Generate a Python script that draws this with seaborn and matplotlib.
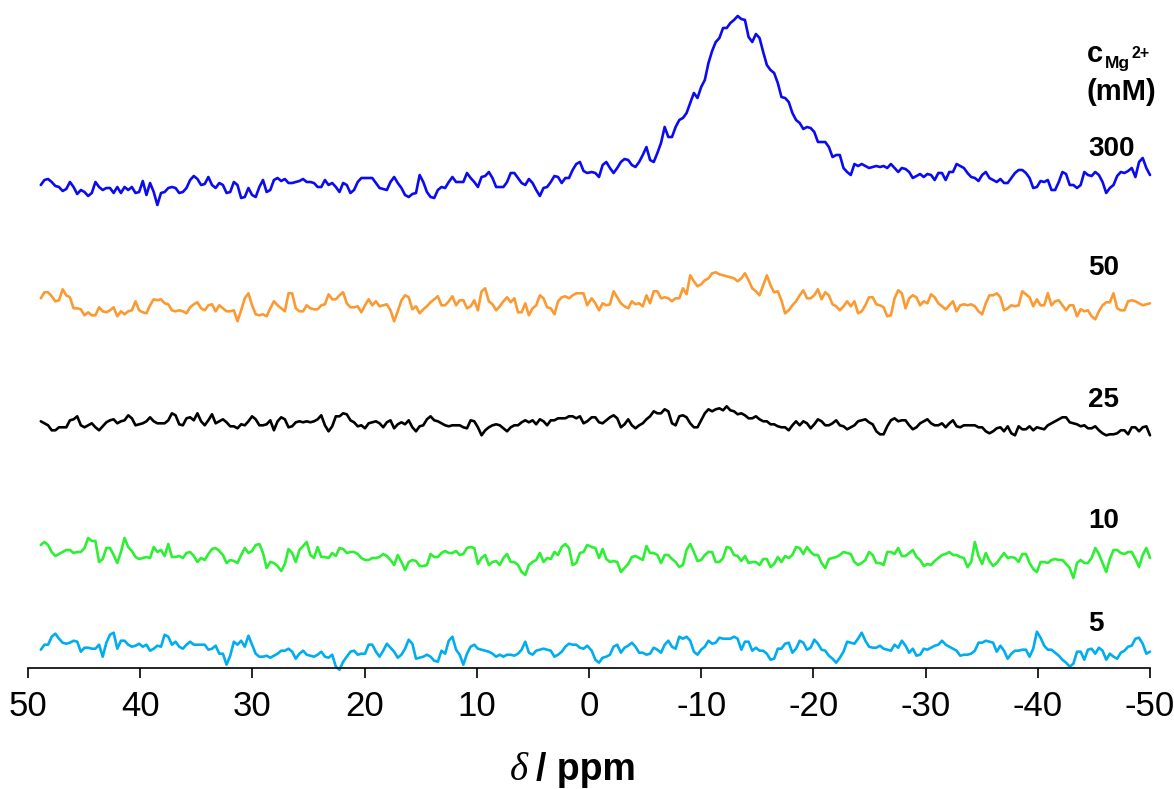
import numpy as np
import pandas as pd
import matplotlib
matplotlib.use("Agg")
import matplotlib.pyplot as plt
import seaborn as sns

# ---------------- data (intensity, arbitrary units) -------------
# each trace: values on a uniform ppm grid, left half (48.9 -> 0.2 ppm), right half (-0.2 -> -50 ppm)
blue_left = [20,25,26,23,19,18,14,16,23,18,11,15,13,9,12,23,18,15,17,17,12,18,12,18,15,18,12,13,24,10,22,13,0,12,13,17,18,17,12,13,17,25,29,26,20,21,28,20,17,22,20,12,13,23,20,7,8,17,10,8,18,25,13,15,25,27,24,26,22,22,23,24,26,23,23,22,18,18,25,20,22,18,13,22,20,12,15,23,27,27,27,27,22,17,16,15,23,28,22,17,10,8,11,12,30,23,13,8,7,15,18,17,23,28,23,23,23,32,27,23,18,28,29,33,27,18,18,18,23,32,32,27,22,20,26,22,15,9,17,18,23,29,28,22,27,27,35,41,43,34,32]
blue_right = [33,32,28,40,43,37,32,37,43,46,45,40,38,43,50,58,45,43,52,62,78,68,68,78,85,87,92,102,112,107,118,125,142,154,163,167,177,177,182,185,189,186,185,168,163,171,167,153,140,135,132,122,108,107,103,92,85,82,76,78,77,73,63,63,63,58,48,50,50,37,33,30,41,39,41,39,37,38,39,38,39,37,41,37,33,37,36,33,27,29,31,28,31,30,25,32,32,25,33,33,41,39,37,32,28,27,24,30,33,27,25,23,26,22,22,27,32,35,35,32,27,17,18,24,23,25,15,15,23,33,31,20,20,17,20,33,30,29,33,30,23,12,17,20,29,33,32,34,37,28,43,47,37,30]

orange_left = [30,36,36,32,27,28,39,33,31,20,20,19,13,16,13,13,21,17,16,18,21,12,17,14,17,18,27,18,16,15,23,29,28,29,25,24,18,17,18,17,15,21,24,26,20,18,23,24,17,23,20,17,17,18,7,18,30,35,23,14,13,14,12,20,27,23,20,17,35,35,20,17,17,23,20,19,19,23,24,34,29,29,33,36,25,21,21,22,16,23,29,23,27,22,23,24,18,7,17,28,33,31,19,22,15,19,22,26,29,32,23,23,27,32,23,28,28,20,22,28,18,37,40,27,24,18,22,27,31,26,30,16,16,25,13,20,23,33,30,21,20,14,27,31,32,30,33,35,35,35,23]
orange_right = [30,25,18,25,23,24,37,31,25,22,20,27,24,25,22,33,25,37,37,30,31,30,27,30,30,40,34,53,47,42,44,48,50,55,56,54,53,52,51,50,47,50,55,48,40,37,33,43,53,43,36,37,28,15,18,23,27,33,38,30,30,33,39,29,36,33,24,22,18,22,27,22,27,15,17,23,31,31,24,23,21,12,13,30,38,35,20,30,33,31,23,27,25,34,31,25,22,19,23,27,17,23,24,23,24,22,17,14,25,33,33,35,31,18,20,23,22,23,37,34,31,22,29,23,23,35,23,27,28,23,18,23,23,12,19,17,18,12,9,17,23,26,26,35,20,18,18,27,28,27,25,23,24,25]

black_left = [17,15,13,8,8,11,11,11,18,19,22,13,11,13,15,11,8,12,16,18,19,15,17,18,23,20,13,14,15,17,21,17,15,15,15,18,25,23,14,13,20,21,18,25,17,13,18,24,15,17,19,16,12,12,10,14,13,17,22,19,13,13,14,18,8,17,21,19,11,12,16,17,16,17,16,17,19,23,13,7,12,22,22,25,24,18,16,12,13,10,15,16,17,15,11,16,18,10,14,16,14,18,11,7,12,13,19,22,18,17,15,13,12,13,13,13,11,10,18,17,11,3,8,11,13,14,13,10,7,11,13,13,16,18,16,18,14,19,17,13,18,18,20,20,20,22,22,20,22,15,17]
black_right = [21,21,16,15,18,21,23,20,11,14,19,13,10,13,15,19,22,27,25,25,29,27,15,13,22,23,21,15,11,11,18,25,29,27,29,30,28,32,28,27,24,25,23,20,20,22,19,17,17,14,14,12,11,11,8,13,17,13,17,15,10,14,19,17,13,13,15,18,13,12,9,11,13,17,18,19,16,14,7,4,4,12,18,20,17,18,18,13,9,11,15,17,19,15,13,13,15,11,15,18,12,11,13,13,13,13,11,11,7,5,7,10,11,7,12,5,3,12,9,9,12,8,11,10,9,13,15,17,19,21,21,16,15,14,12,13,10,10,12,8,5,3,4,4,5,8,8,4,11,11,7,11,12,3]

green_left = [40,43,40,33,29,31,33,35,35,32,33,33,37,47,44,44,23,26,37,37,30,22,33,47,38,34,28,26,27,28,27,38,33,35,29,41,28,28,29,27,32,33,29,23,27,25,31,36,37,34,30,22,25,24,22,30,37,32,34,40,41,32,17,23,22,19,14,21,36,32,23,35,39,43,30,27,38,28,28,27,32,29,37,36,32,33,33,31,27,25,25,27,27,28,31,29,25,20,30,23,15,23,25,24,19,19,20,31,28,28,32,34,32,32,34,30,31,37,38,37,21,27,30,20,23,24,20,27,31,23,23,20,13,10,20,23,25,32,23,27,26,33,30,38,41,37,20,22,32,33,40]
green_right = [38,37,27,36,26,23,24,23,13,17,21,28,29,27,25,39,32,32,30,22,30,30,26,23,18,20,35,41,33,24,25,30,33,33,23,23,27,38,37,30,29,24,29,22,23,23,20,26,26,18,21,28,23,29,27,30,38,37,31,38,33,30,30,22,17,26,27,28,30,33,32,31,23,20,22,25,33,30,22,22,20,33,33,31,37,29,29,32,35,28,25,19,21,20,24,27,30,31,33,30,30,28,27,18,23,43,29,21,32,24,19,22,27,32,27,28,27,23,31,31,22,16,13,23,23,22,25,26,25,25,21,17,7,22,25,22,22,27,37,31,22,13,26,35,35,32,31,33,33,26,18,30,37,27]

cyan_left = [22,27,27,35,38,33,29,28,29,31,30,20,24,24,23,23,27,15,29,37,39,23,31,31,27,25,26,28,25,27,21,23,26,25,37,35,27,30,25,23,27,30,27,27,27,27,22,23,26,18,18,7,16,30,27,31,25,36,27,18,15,15,16,14,16,18,21,21,23,20,13,18,21,17,16,15,17,20,15,14,17,5,2,10,15,20,21,17,18,18,27,27,20,15,21,28,24,20,14,17,23,32,28,13,14,15,17,15,11,10,21,18,31,35,22,17,7,18,25,27,23,22,21,20,18,15,17,15,17,17,16,18,22,30,19,17,21,22,23,22,21,15,17,20,25,28,27,27,24,23,26]
cyan_right = [21,12,9,14,15,17,25,27,19,24,26,29,25,19,19,17,18,24,22,19,27,31,25,23,35,33,35,31,20,17,22,25,31,28,29,34,33,33,33,35,33,22,30,30,21,24,21,21,18,12,13,23,23,28,29,19,23,31,29,22,24,32,28,22,21,16,13,9,14,20,30,29,28,33,39,31,25,24,24,26,23,22,21,27,24,31,26,19,23,16,17,23,22,24,26,27,31,27,25,23,21,16,17,17,18,21,29,29,31,30,29,20,26,21,13,18,21,21,22,22,15,23,40,34,26,22,22,19,16,12,9,5,8,20,20,12,22,23,18,24,21,12,18,15,13,19,21,25,26,33,34,28,18,20]

concentrations = ["300", "50", "25", "10", "5"]
traces = {
    "300": (blue_left, blue_right),
    "50": (orange_left, orange_right),
    "25": (black_left, black_right),
    "10": (green_left, green_right),
    "5": (cyan_left, cyan_right),
}
x_ticks = [50, 40, 30, 20, 10, 0, -10, -20, -30, -40, -50]

# ---------------- styling / stacking -------------
palette = {"300": "#0b0bf2", "50": "#fb9a32", "25": "#000000", "10": "#2def33", "5": "#00adef"}
stack_offset = {"300": 463, "50": 339.7, "25": 229.7, "10": 83, "5": -3.7}

frames = []
for c in concentrations:
    left, right = traces[c]
    ppm = np.concatenate([np.linspace(48.86, 0.16, len(left)), np.linspace(-0.24, -50.0, len(right))])
    val = np.concatenate([left, right]).astype(float) + stack_offset[c]
    frames.append(pd.DataFrame({"ppm": ppm, "y": val, "conc": c}))
df = pd.concat(frames, ignore_index=True)

sns.set_theme(style="white")
plt.rcParams["font.family"] = ["Liberation Sans", "DejaVu Sans"]
plt.rcParams["axes.unicode_minus"] = False
plt.rcParams["text.color"] = "black"

W, H = 1174, 789
fig = plt.figure(figsize=(W / 100, H / 100), dpi=100)
ax = fig.add_axes([28 / W, (H - 668) / H, (1150 - 28) / W, 668 / H])

sns.lineplot(data=df, x="ppm", y="y", hue="conc", palette=palette, estimator=None,
             sort=False, legend=False, linewidth=1.9, ax=ax)
for ln in ax.lines:
    ln.set_clip_on(False)

ax.set_xlim(50, -50)
ax.set_ylim(0, 668)
ax.set_yticks([])
ax.set_xticks(x_ticks)
ax.set_xticklabels([str(t) for t in x_ticks], fontsize=25,
                   family=["Liberation Sans Narrow", "Liberation Sans"])
ax.tick_params(axis="x", direction="out", length=7, width=1.2, pad=9, colors="black", bottom=True)
for s in ["left", "top", "right"]:
    ax.spines[s].set_visible(False)
ax.spines["bottom"].set_linewidth(1.2)
ax.spines["bottom"].set_color("black")
ax.set_xlabel("")
ax.set_ylabel("")
ax.patch.set_alpha(0)

def fx(px):
    return px / W

def fy(py):
    return 1 - py / H

# trace labels
label_base = {"300": 156, "50": 275, "25": 407, "10": 528, "5": 631}
for c in concentrations:
    fig.text(fx(1088), fy(label_base[c]), c, fontsize=20, fontweight="bold",
             color="black", ha="left", va="baseline")

fig.text(fx(1087), fy(100), "(mM)", fontsize=21, fontweight="bold", color="black",
         ha="left", va="baseline")
fig.text(fx(1087), fy(62), "c", fontsize=21, fontweight="bold", color="black",
         ha="left", va="baseline")
fig.text(fx(1105), fy(68), "Mg", fontsize=12.5, fontweight="bold", color="black",
         ha="left", va="baseline")
fig.text(fx(1131), fy(58), "2+", fontsize=11.5, fontweight="bold", color="black",
         ha="left", va="baseline")

# axis title
fig.text(fx(528), fy(780), "δ", fontsize=28, style="italic", color="black",
         family=["Liberation Serif", "DejaVu Serif"], ha="right", va="baseline")
fig.text(fx(536), fy(780), "/ ppm", fontsize=27, fontweight="bold", color="black",
         family=["Liberation Sans Narrow", "Liberation Sans"], ha="left", va="baseline")

fig.savefig("out.png", dpi=100)
